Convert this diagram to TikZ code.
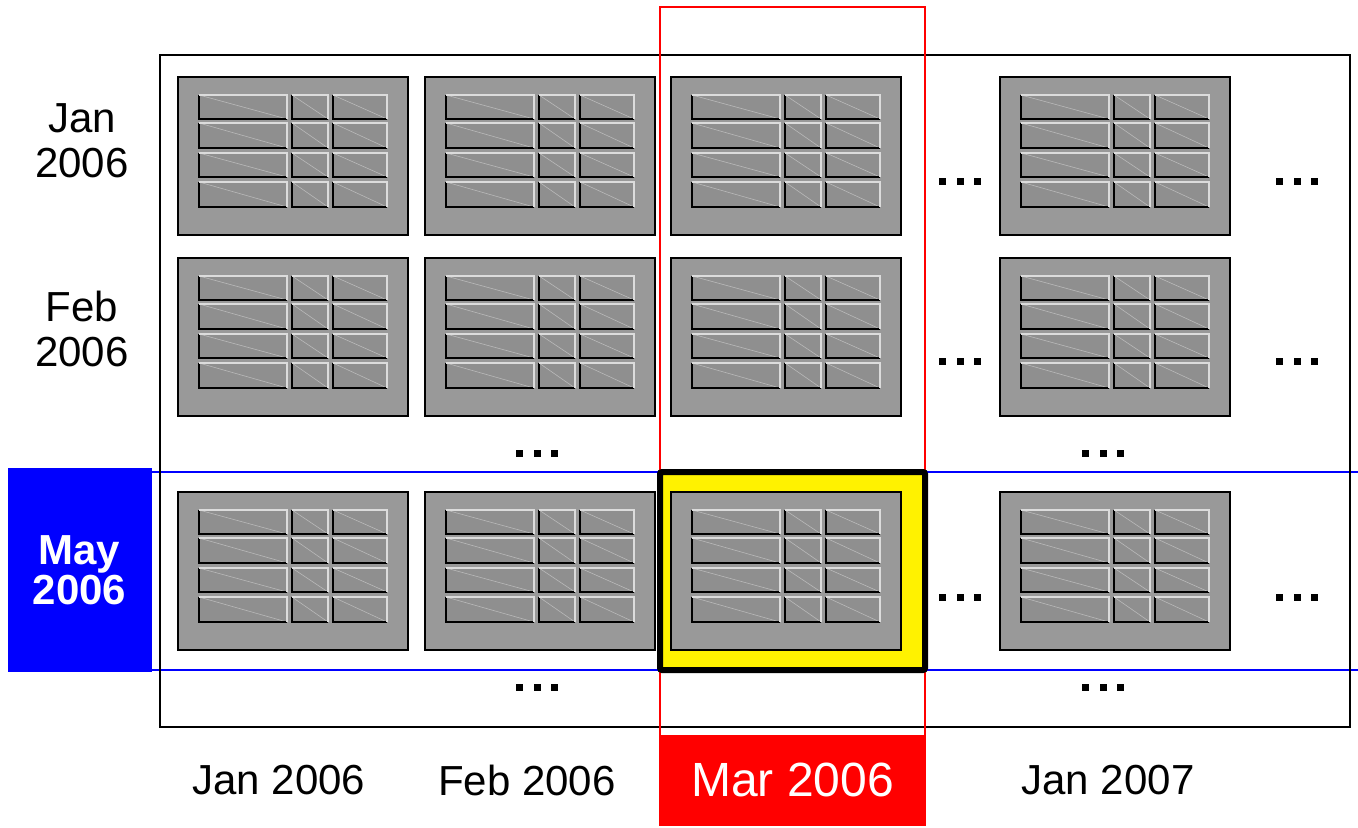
\documentclass[tikz,border=0pt]{standalone}
\usepackage{fontspec}
\setmainfont{Liberation Sans}

\definecolor{boxgray}{HTML}{999999}
\definecolor{cellgray}{HTML}{8F8F8F}
\definecolor{edgelight}{HTML}{DCDCDC}

\tikzset{
  tbl/.style={draw=black, line width=0.75pt, fill=boxgray, anchor=north west,
    minimum width=115pt, minimum height=79pt, inner sep=0pt, outer sep=0pt},
  lbl/.style={font=\fontsize{21}{22.5}\selectfont, align=center},
  dots/.style={inner sep=0pt}
}

% three square dots
\newcommand{\sqdots}{\rule{3.5pt}{3.5pt}\hspace{5.25pt}\rule{3.5pt}{3.5pt}\hspace{5.25pt}\rule{3.5pt}{3.5pt}}

% cells of one table icon, relative to its top left corner
\newcommand{\tablecells}[1]{%
  \begin{scope}[shift={(#1.north west)}]
    \foreach \ya/\yb in {18/42,46/71,76/100,105/130}
      \foreach \xa/\xb in {21/109,114/150,155/209} {
        \fill[cellgray] (\xa,\ya) rectangle (\xb,\yb);
        \draw[edgelight!55!cellgray, line width=0.3pt] (\xa,\ya) -- (\xb,\yb);
        \draw[black, line width=1.25pt] (\xa,\ya) -- (\xa,\yb) -- (\xb,\yb);
        \draw[edgelight, line width=1.25pt] (\xa,\ya) -- (\xb,\ya) -- (\xb,\yb);
      }
  \end{scope}}

\begin{document}
\begin{tikzpicture}[x=0.5pt, y=-0.5pt]
    \useasboundingbox (0,0) rectangle (1358,827);

    % Selected row (blue)
    \draw[blue, line width=0.6pt] (152,472) -- (1358,472);
    \draw[blue, line width=0.6pt] (152,670) -- (1358,670);
    \node[fill=blue, text=white, minimum width=72pt, minimum height=102pt,
      font=\fontsize{21}{20}\selectfont\bfseries, align=center]
      (rowmay) at (79.5,570) {May\\2006};

    % Outer frame
    \draw[black, line width=0.75pt] (160,55) rectangle (1350,727);

    % Selected column (red)
    \draw[red, line width=0.75pt] (660,7) rectangle (925,825);
    \node[fill=red, text=white, minimum width=132.5pt, minimum height=45pt,
      font=\fontsize{24}{26}\selectfont] (colmar) at (792.5,780) {Mar 2006};

    % Highlighted cell
    \draw[black, fill=yellow, line width=3pt, rounded corners=1pt] (660,472) rectangle (925,670);

    % Table icons
    \foreach \c/\x in {1/178,2/425,3/671,4/1000}
      \foreach \r/\y in {1/77,2/258,3/492} {
        \node[tbl] (t\r\c) at (\x,\y) {};
        \tablecells{t\r\c}
      }

    % Row labels
    \node[lbl] (rowjan) at (82,141) {Jan\\2006};
    \node[lbl] (rowfeb) at (82,329) {Feb\\2006};

    % Column labels
    \node[lbl] (coljan) at (279,780) {Jan 2006};
    \node[lbl] (colfeb) at (527,780) {Feb 2006};
    \node[lbl] (colnext) at (1108,780) {Jan 2007};

    % Ellipses
    \node[dots] (d1) at (960,181) {\sqdots};
    \node[dots] (d2) at (960,361) {\sqdots};
    \node[dots] (d3) at (960,597) {\sqdots};
    \node[dots] (d4) at (1297,181) {\sqdots};
    \node[dots] (d5) at (1297,361) {\sqdots};
    \node[dots] (d6) at (1297,597) {\sqdots};
    \node[dots] (d7) at (537,453) {\sqdots};
    \node[dots] (d8) at (1103,453) {\sqdots};
    \node[dots] (d9) at (537,687) {\sqdots};
    \node[dots] (d10) at (1103,687) {\sqdots};
\end{tikzpicture}
\end{document}
